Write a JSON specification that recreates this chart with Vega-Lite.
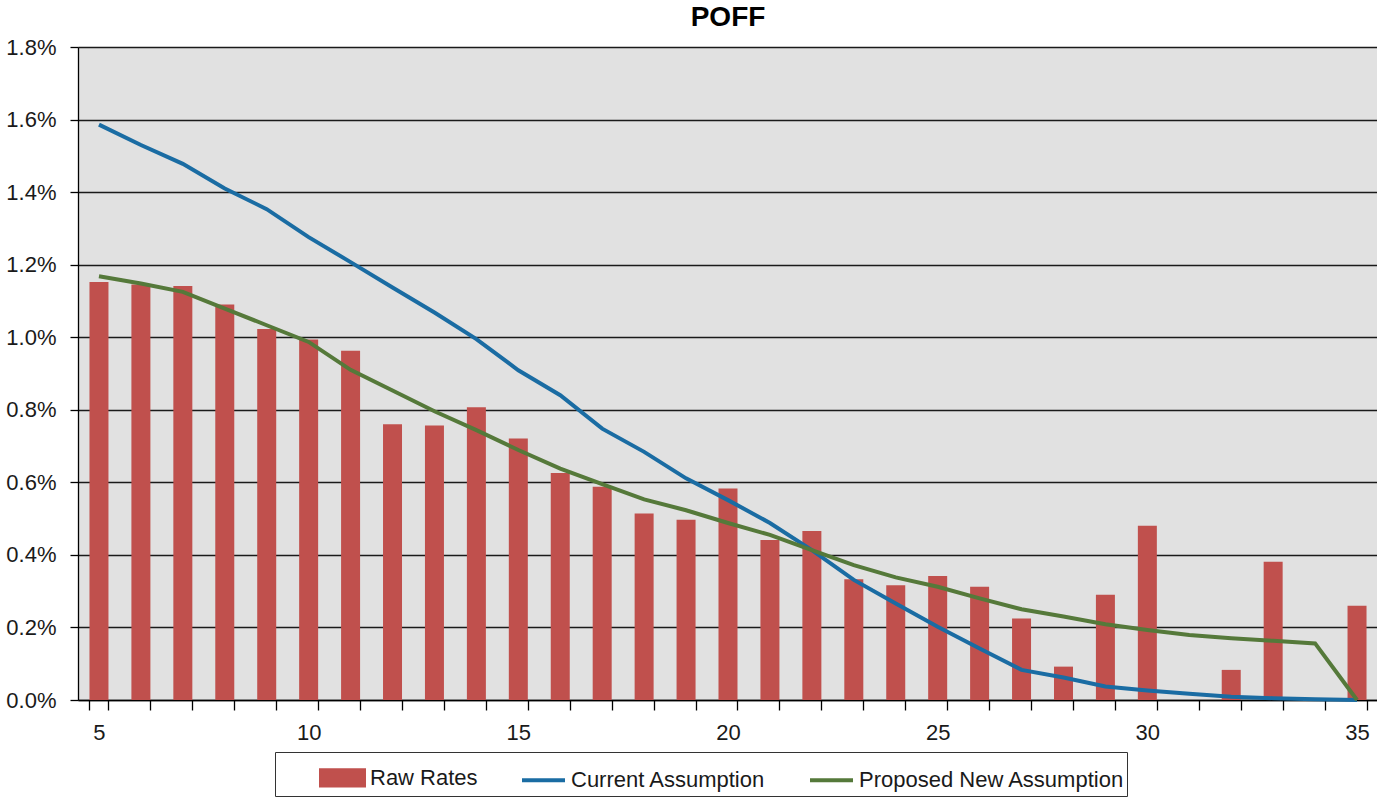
{
  "$schema": "https://vega.github.io/schema/vega-lite/v6.json",
  "autosize": {"type": "none"},
  "width": 1300,
  "height": 653,
  "padding": {"left": 78, "top": 47, "right": 0, "bottom": 101},
  "background": "#ffffff",
  "title": {"text": "POFF", "fontSize": 28, "fontWeight": "bold", "font": "Liberation Sans", "color": "#000000", "offset": 4, "anchor": "middle"},
  "config": {
    "view": {"fill": "#E1E1E1", "stroke": null},
    "axis": {"labelFont": "Liberation Sans", "labelFontSize": 22, "labelColor": "#1a1a1a", "domainColor": "#000000", "tickColor": "#000000", "domainWidth": 1.3, "tickWidth": 1.3},
    "legend": {"labelFont": "Liberation Sans", "labelFontSize": 22, "labelColor": "#1a1a1a", "labelLimit": 0}
  },
  "data": {"values": [
    {"t": 5, "raw": 0.01152, "cur": 0.01586, "prop": 0.01168},
    {"t": 6, "raw": 0.01145, "cur": 0.01530, "prop": 0.01148},
    {"t": 7, "raw": 0.01141, "cur": 0.01478, "prop": 0.01125},
    {"t": 8, "raw": 0.01090, "cur": 0.01410, "prop": 0.01079},
    {"t": 9, "raw": 0.01023, "cur": 0.01353, "prop": 0.01033},
    {"t": 10, "raw": 0.00994, "cur": 0.01276, "prop": 0.00987},
    {"t": 11, "raw": 0.00963, "cur": 0.01207, "prop": 0.00910},
    {"t": 12, "raw": 0.00760, "cur": 0.01137, "prop": 0.00853},
    {"t": 13, "raw": 0.00757, "cur": 0.01068, "prop": 0.00796},
    {"t": 14, "raw": 0.00807, "cur": 0.00995, "prop": 0.00744},
    {"t": 15, "raw": 0.00721, "cur": 0.00909, "prop": 0.00689},
    {"t": 16, "raw": 0.00626, "cur": 0.00840, "prop": 0.00638},
    {"t": 17, "raw": 0.00588, "cur": 0.00748, "prop": 0.00595},
    {"t": 18, "raw": 0.00514, "cur": 0.00684, "prop": 0.00553},
    {"t": 19, "raw": 0.00497, "cur": 0.00611, "prop": 0.00523},
    {"t": 20, "raw": 0.00583, "cur": 0.00551, "prop": 0.00488},
    {"t": 21, "raw": 0.00441, "cur": 0.00488, "prop": 0.00455},
    {"t": 22, "raw": 0.00466, "cur": 0.00413, "prop": 0.00413},
    {"t": 23, "raw": 0.00333, "cur": 0.00331, "prop": 0.00372},
    {"t": 24, "raw": 0.00316, "cur": 0.00266, "prop": 0.00338},
    {"t": 25, "raw": 0.00342, "cur": 0.00202, "prop": 0.00312},
    {"t": 26, "raw": 0.00312, "cur": 0.00142, "prop": 0.00280},
    {"t": 27, "raw": 0.00225, "cur": 0.00083, "prop": 0.00250},
    {"t": 28, "raw": 0.00092, "cur": 0.00062, "prop": 0.00230},
    {"t": 29, "raw": 0.00290, "cur": 0.00037, "prop": 0.00209},
    {"t": 30, "raw": 0.00480, "cur": 0.00026, "prop": 0.00193},
    {"t": 31, "raw": null, "cur": 0.00017, "prop": 0.00179},
    {"t": 32, "raw": 0.00083, "cur": 0.00009, "prop": 0.00170},
    {"t": 33, "raw": 0.00381, "cur": 0.00005, "prop": 0.00163},
    {"t": 34, "raw": null, "cur": 0.00002, "prop": 0.00156},
    {"t": 35, "raw": 0.00260, "cur": 0.00000, "prop": 0.00000}
  ]},
  "encoding": {
    "x": {"field": "t", "type": "ordinal", "scale": {"paddingInner": 0.547, "paddingOuter": 0.2735},
      "axis": {"title": null, "labelAngle": 0, "labelExpr": "datum.value % 5 == 0 ? datum.label : ''", "tickBand": "extent", "tickSize": 10, "labelPadding": 12, "grid": false}}
  },
  "layer": [
    {
      "mark": {"type": "bar"},
      "encoding": {
        "y": {"field": "raw", "type": "quantitative", "scale": {"domain": [0, 0.018], "nice": false},
          "axis": {"title": null, "format": ".1%", "values": [0, 0.002, 0.004, 0.006, 0.008, 0.01, 0.012, 0.014, 0.016, 0.018], "grid": true, "gridColor": "#1a1a1a", "gridWidth": 1.3, "tickSize": 8, "labelPadding": 14}},
        "color": {"datum": "Raw Rates", "type": "nominal",
          "scale": {"domain": ["Raw Rates", "Current Assumption", "Proposed New Assumption"], "range": ["#C0504D", "#1A6CA3", "#55793A"]},
          "legend": {"title": "\u00a0", "titleOrient": "left", "titlePadding": 42, "titleFontSize": 10, "orient": "none", "legendX": 197, "legendY": 705, "direction": "horizontal", "strokeColor": "#333333", "padding": 2, "columnPadding": 36, "labelOffset": 4, "symbolSize": 1849,
            "encode": {"symbols": {"update": {
              "shape": {"signal": "datum.label === 'Raw Rates' ? 'M-1,-0.36L1,-0.36L1,0.36L-1,0.36Z' : 'M-1,0L1,0'"},
              "fill": {"signal": "datum.label === 'Raw Rates' ? '#C0504D' : 'transparent'"},
              "stroke": {"signal": "datum.label === 'Raw Rates' ? 'transparent' : (datum.label === 'Current Assumption' ? '#1A6CA3' : '#55793A')"},
              "strokeWidth": {"value": 4}
            }}}}
        }
      }
    },
    {
      "mark": {"type": "line", "strokeWidth": 4},
      "encoding": {
        "y": {"field": "cur", "type": "quantitative"},
        "color": {"datum": "Current Assumption", "type": "nominal"}
      }
    },
    {
      "mark": {"type": "line", "strokeWidth": 4},
      "encoding": {
        "y": {"field": "prop", "type": "quantitative"},
        "color": {"datum": "Proposed New Assumption", "type": "nominal"}
      }
    }
  ]
}
